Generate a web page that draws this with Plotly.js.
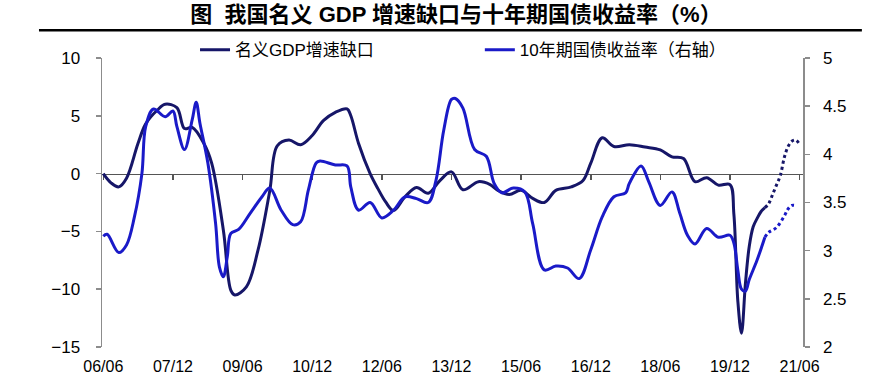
<!DOCTYPE html>
<html><head><meta charset="utf-8">
<script src="https://cdn.plot.ly/plotly-3.0.1.min.js"></script>
<style>html,body{margin:0;padding:0;background:#fff;}#chart{width:882px;height:375px;}</style>
</head><body><div id="chart"></div>
<script>
// 名义GDP增速缺口 (left axis, %)
const gapDates = ['2006-06','2006-08','2006-10','2006-12','2007-03','2007-05','2007-08','2007-10','2008-01','2008-03','2008-05','2008-08','2008-10','2009-01','2009-03','2009-04','2009-07','2009-10','2010-01','2010-03','2010-06','2010-09','2010-12','2011-03','2011-06','2011-09','2011-10','2011-12','2012-03','2012-05','2012-07','2012-09','2012-12','2013-03','2013-06','2013-09','2013-12','2014-03','2014-07','2014-10','2014-12','2015-03','2015-06','2015-09','2015-12','2016-03','2016-07','2016-10','2016-12','2017-03','2017-06','2017-10','2018-02','2018-06','2018-09','2018-12','2019-03','2019-06','2019-09','2019-12','2020-01','2020-02','2020-03','2020-04','2020-05','2020-06','2020-07','2020-08','2020-09'];
const gapValues = [0,-0.8,-1.15,-0.4,2.6,4.3,5.5,6.0,5.7,3.9,4.0,2.6,0.9,-4.9,-10.1,-10.5,-9.8,-6.6,-1.5,2.4,2.9,2.5,3.3,4.6,5.3,5.6,5.0,2.6,0,-1.3,-2.45,-3.2,-2.0,-1.2,-1.7,-0.6,0.15,-1.4,-0.7,-0.95,-1.45,-1.8,-1.45,-2.15,-2.5,-1.45,-1.15,-0.6,0.9,3.1,2.35,2.5,2.3,2.05,1.45,1.3,-0.7,-0.35,-1.0,-0.95,-3.5,-11.0,-13.8,-9.5,-6.3,-4.6,-3.9,-3.3,-2.95];
const gapForecastDates = ['2020-09','2020-10','2020-11','2020-12','2021-01','2021-02','2021-03','2021-04','2021-05','2021-06'];
const gapForecastValues = [-2.95,-2.6,-1.8,-1.0,-0.15,1.4,2.3,2.8,2.9,2.55];

// 10年期国债收益率 (right axis, %)
const yieldDates = ['2006-06','2006-07','2006-10','2006-12','2007-02','2007-04','2007-05','2007-07','2007-10','2007-12','2008-01','2008-03','2008-05','2008-06','2008-07','2008-09','2008-11','2008-12','2009-01','2009-02','2009-03','2009-05','2009-08','2009-11','2010-01','2010-04','2010-07','2010-09','2010-11','2011-01','2011-02','2011-06','2011-09','2011-10','2011-12','2012-03','2012-06','2012-09','2012-12','2013-03','2013-06','2013-08','2013-10','2013-12','2014-01','2014-03','2014-06','2014-09','2014-11','2015-01','2015-04','2015-07','2015-09','2015-12','2016-03','2016-06','2016-09','2016-12','2017-03','2017-06','2017-09','2017-10','2018-01','2018-03','2018-06','2018-09','2018-11','2019-01','2019-03','2019-06','2019-09','2019-12','2020-01','2020-02','2020-03','2020-04','2020-05','2020-07','2020-09'];
const yieldValues = [3.15,3.17,2.98,3.06,3.35,3.80,4.29,4.47,4.39,4.45,4.29,4.05,4.36,4.54,4.32,3.91,3.28,2.83,2.73,2.94,3.18,3.22,3.39,3.56,3.65,3.42,3.27,3.30,3.63,3.91,3.93,3.89,3.88,3.66,3.42,3.50,3.34,3.42,3.56,3.54,3.50,3.73,4.25,4.57,4.58,4.48,4.05,3.98,3.70,3.60,3.65,3.61,3.28,2.80,2.84,2.82,2.71,3.01,3.35,3.56,3.60,3.70,3.88,3.72,3.47,3.61,3.39,3.16,3.07,3.23,3.14,3.16,3.08,2.80,2.60,2.58,2.70,2.90,3.14];
const yieldForecastDates = ['2020-09','2020-10','2020-12','2021-02','2021-03','2021-04','2021-05'];
const yieldForecastValues = [3.14,3.19,3.24,3.36,3.43,3.47,3.47];

const tickDates = ['2006-06-01','2007-12-01','2009-06-01','2010-12-01','2012-06-01','2013-12-01','2015-06-01','2016-12-01','2018-06-01','2019-12-01','2021-06-01'];
const tickLabels = ['06/06','07/12','09/06','10/12','12/06','13/12','15/06','16/12','18/06','19/12','21/06'];

const darkColor = '#161668';
const blueColor = '#1a1ac8';
const FONT = 'Liberation Sans, Arial, "Noto Sans CJK SC", sans-serif';
const xRange = ['2006-05-22','2021-06-28'];

const traces = [
  {x: gapDates, y: gapValues, type:'scatter', mode:'lines', name:'名义GDP增速缺口',
   line:{color:darkColor, width:3, shape:'spline', smoothing:1}, xaxis:'x', yaxis:'y', legend:'legend'},
  {x: gapForecastDates, y: gapForecastValues, type:'scatter', mode:'lines', showlegend:false,
   line:{color:darkColor, width:3, dash:'dot', shape:'spline', smoothing:1}, xaxis:'x', yaxis:'y'},
  {x: yieldDates, y: yieldValues, type:'scatter', mode:'lines', name:'10年期国债收益率（右轴）',
   line:{color:blueColor, width:3, shape:'spline', smoothing:1}, xaxis:'x2', yaxis:'y2', legend:'legend2'},
  {x: yieldForecastDates, y: yieldForecastValues, type:'scatter', mode:'lines', showlegend:false,
   line:{color:blueColor, width:3, dash:'dot', shape:'spline', smoothing:1}, xaxis:'x2', yaxis:'y2'}
];

const layout = {
  width:882, height:375,
  margin:{l:102, r:79, t:58, b:28, pad:0},
  paper_bgcolor:'#fff', plot_bgcolor:'#fff',
  font:{family:FONT, size:16, color:'#000'},
  title:{text:'图  我国名义 GDP 增速缺口与十年期国债收益率（%）', font:{family:FONT, size:22, weight:'bold', color:'#000'},
    x:0.505, xanchor:'center', xref:'paper', y:0.962, yanchor:'middle', yref:'container'},
  showlegend:true,
  legend:{x:0.1327, xanchor:'left', xref:'paper', y:1.027, yanchor:'middle', orientation:'h', bgcolor:'rgba(0,0,0,0)', borderwidth:0, font:{family:FONT, size:17}},
  legend2:{x:0.539, xanchor:'left', xref:'paper', y:1.027, yanchor:'middle', orientation:'h', bgcolor:'rgba(0,0,0,0)', borderwidth:0, font:{family:FONT, size:17}},
  xaxis:{type:'date', range:xRange, tickvals:tickDates, ticktext:tickLabels, showline:false, showgrid:false, zeroline:false,
    ticks:'', ticklabelstandoff:8, tickfont:{size:16}, anchor:'y'},
  xaxis2:{type:'date', overlaying:'x', range:xRange, anchor:'free', position:0.6, tickvals:tickDates, showticklabels:false,
    showline:true, linecolor:'#555', linewidth:1.5, ticks:'outside', ticklen:5, tickwidth:1.5, tickcolor:'#555',
    showgrid:false, zeroline:false, layer:'below traces'},
  yaxis:{range:[-15,10], tickvals:[-15,-10,-5,0,5,10], showline:true, linecolor:'#8c8c8c', linewidth:1.5,
    ticks:'outside', ticklen:5, tickwidth:1.5, tickcolor:'#8c8c8c', showgrid:false, zeroline:false, ticklabelstandoff:12, tickfont:{size:17}},
  yaxis2:{range:[2,5], tickvals:[2,2.5,3,3.5,4,4.5,5], overlaying:'y', side:'right', anchor:'x2', showline:true, linecolor:'#8c8c8c', linewidth:1.5,
    ticks:'outside', ticklen:5, tickwidth:1.5, tickcolor:'#8c8c8c', showgrid:false, zeroline:false, ticklabelstandoff:10, tickfont:{size:17}},
  shapes:[{type:'line', xref:'paper', yref:'paper', x0:-0.0899, x1:1.084, y0:1.0958, y1:1.0958, line:{color:'#000', width:2.5}}]
};

Plotly.newPlot('chart', traces, layout, {displayModeBar:false, staticPlot:true});
</script>
</body></html>
